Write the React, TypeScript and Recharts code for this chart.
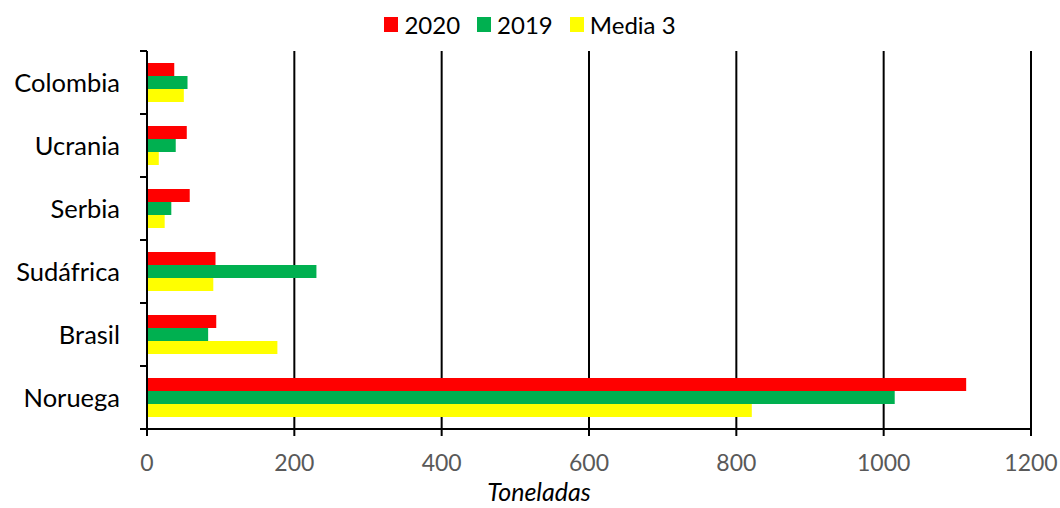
import React from "react";
import {
  BarChart,
  Bar,
  XAxis,
  YAxis,
  CartesianGrid,
  Legend,
  Label,
} from "recharts";

const countries = ["Colombia", "Ucrania", "Serbia", "Sudáfrica", "Brasil", "Noruega"];
const values2020 = [37, 54, 58, 93, 94, 1112];
const values2019 = [55, 39, 33, 230, 83, 1015];
const valuesMedia3 = [50, 16, 24, 90, 177, 821];
const xTicks = [0, 200, 400, 600, 800, 1000, 1200];

const series = [
  { key: "y2020", name: "2020", color: "#FF0000", values: values2020 },
  { key: "y2019", name: "2019", color: "#00B050", values: values2019 },
  { key: "media3", name: "Media 3", color: "#FFFF00", values: valuesMedia3 },
];

const data = countries.map((country, i) => {
  const row: Record<string, string | number> = { country };
  series.forEach((s) => {
    row[s.key] = s.values[i];
  });
  return row;
});

const W = 1060;
const H = 508;
const FONT = "Lato, 'Open Sans', sans-serif";
const Y_AXIS_W = 147;
const X_AXIS_H = 79;
const TOP = 51;
const BAND = (H - TOP - X_AXIS_H) / countries.length;

function CountryTick(props: any) {
  const { y, payload, index } = props;
  const axisX = Y_AXIS_W;
  const last = index === countries.length - 1;
  return (
    <g>
      <line x1={axisX - 7} x2={axisX} y1={y - BAND / 2} y2={y - BAND / 2} stroke="#000" strokeWidth={2} />
      {last && (
        <line x1={axisX - 7} x2={axisX} y1={y + BAND / 2} y2={y + BAND / 2} stroke="#000" strokeWidth={2} />
      )}
      <text
        x={120}
        y={y}
        dy="0.36em"
        textAnchor="end"
        fontFamily={FONT}
        fontSize={25.5}
        fill="#000"
      >
        {payload.value}
      </text>
    </g>
  );
}

function LegendContent() {
  return (
    <div
      style={{
        height: 41,
        display: "flex",
        justifyContent: "center",
        alignItems: "flex-start",
        fontFamily: FONT,
        fontSize: 24,
        color: "#000",
      }}
    >
      {series.map((s, i) => (
        <div
          key={s.key}
          style={{
            display: "flex",
            alignItems: "center",
            height: 28,
            marginLeft: i === 0 ? 0 : 17,
          }}
        >
          <span
            style={{
              display: "inline-block",
              width: 14,
              height: 15,
              background: s.color,
              marginRight: 6,
            }}
          />
          <span>{s.name}</span>
        </div>
      ))}
    </div>
  );
}

export default function App() {
  return (
    <div style={{ position: "absolute", left: 0, top: 0, width: W, height: H, background: "#fff" }}>
      <BarChart
        width={W}
        height={H}
        data={data}
        layout="vertical"
        margin={{ top: 10, right: 29, bottom: 0, left: 0 }}
        barGap={0}
        barSize={13}
      >
        <CartesianGrid horizontal={false} stroke="#000" strokeWidth={2} />
        <XAxis
          type="number"
          domain={[0, 1200]}
          ticks={xTicks}
          height={X_AXIS_H}
          axisLine={{ stroke: "#000", strokeWidth: 2 }}
          tickLine={{ stroke: "#000", strokeWidth: 2 }}
          tickSize={7}
          tickMargin={19}
          tick={{ fill: "#595959", fontSize: 23, fontFamily: FONT }}
        >
          <Label
            content={(p: any) => {
              const vb = p.viewBox;
              return (
                <text
                  x={vb.x + vb.width / 2 - 50}
                  y={501}
                  textAnchor="middle"
                  fontFamily={FONT}
                  fontSize={25}
                  fontStyle="italic"
                  fill="#000"
                >
                  Toneladas
                </text>
              );
            }}
          />
        </XAxis>
        <YAxis
          type="category"
          dataKey="country"
          width={Y_AXIS_W}
          axisLine={{ stroke: "#000", strokeWidth: 2 }}
          tickLine={false}
          tick={<CountryTick />}
          interval={0}
        />
        <Legend
          verticalAlign="top"
          wrapperStyle={{ top: 10, left: 0, width: W }}
          content={<LegendContent />}
        />
        {series.map((s) => (
          <Bar key={s.key} dataKey={s.key} name={s.name} fill={s.color} isAnimationActive={false} />
        ))}
      </BarChart>
    </div>
  );
}
